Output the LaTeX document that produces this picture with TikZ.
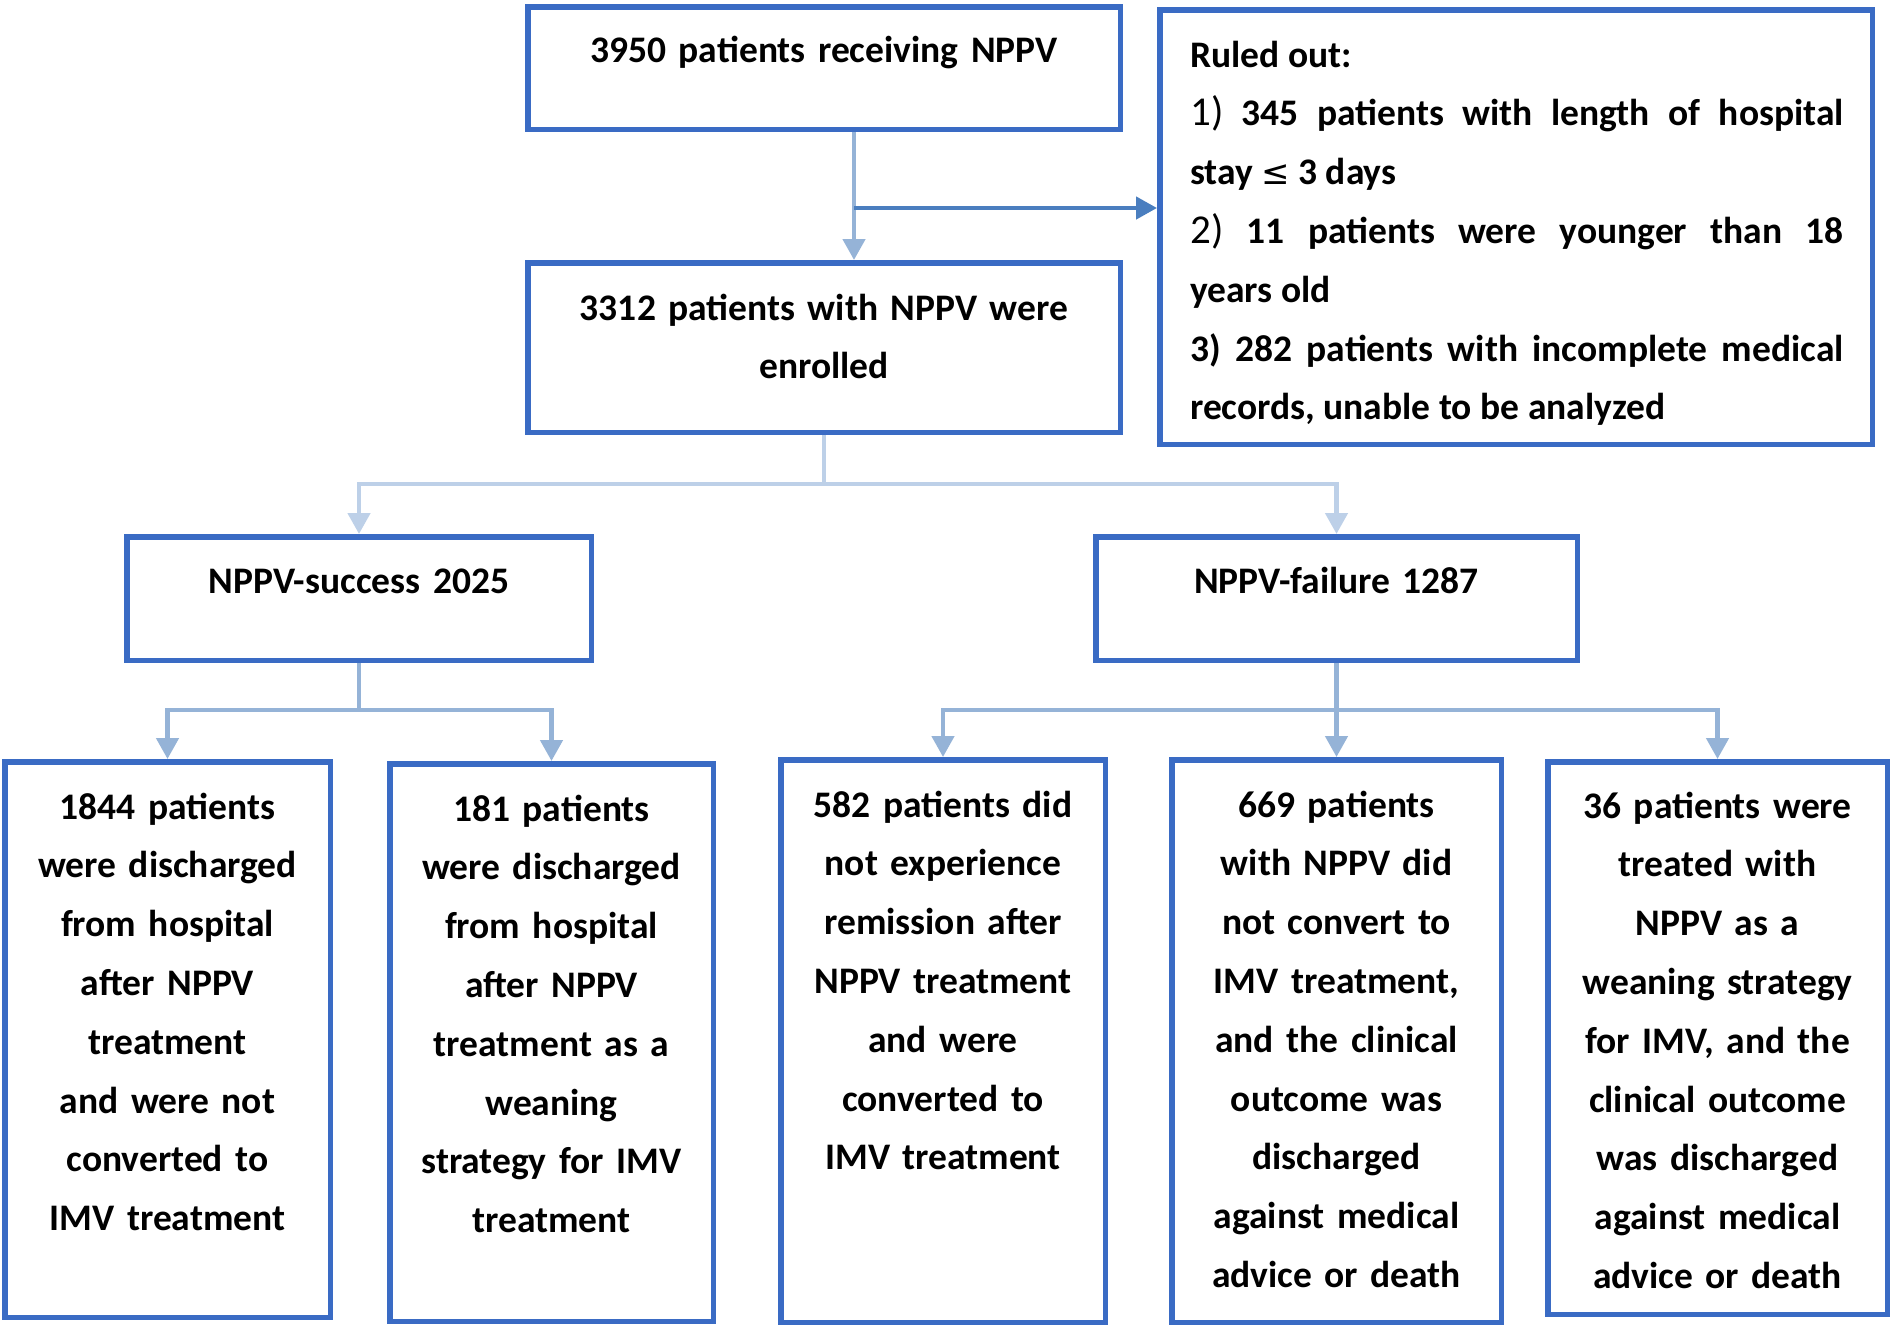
\documentclass[tikz,border=0pt]{standalone}
\usepackage{fontspec}
\setmainfont{Carlito}
\newfontfamily\symfont{DejaVu Sans}
\usetikzlibrary{arrows.meta}
\definecolor{boxblue}{HTML}{3A6BC4}
\definecolor{arrowA}{HTML}{95B3D7}
\definecolor{arrowB}{HTML}{BDD0E8}
\definecolor{arrowC}{HTML}{4A7EBF}
\tikzset{
  frame/.style={draw=boxblue, line width=5.5pt, inner sep=0pt, fill=white},
  txt/.style={font=\bfseries\fontsize{37.5}{58.8}\selectfont, inner sep=0pt, align=center, anchor=base, text width=310pt},
  conn/.style={line width=4.5pt, -{Triangle[width=22pt,length=21pt]}},
  stem/.style={line width=4.5pt},
}
\begin{document}
\begin{tikzpicture}[x=1pt,y=-1pt]
\useasboundingbox[fill=white] (0,0) rectangle (1894,1328);
% boxes
\node[frame, minimum width=592.5pt, minimum height=122.5pt] (b1) at (824,68) {};
\node[frame, minimum width=592.5pt, minimum height=169.5pt] (b2) at (824,347.5) {};
\node[frame, minimum width=712.5pt, minimum height=434.5pt] (ro) at (1516,227) {};
\node[frame, minimum width=464.5pt, minimum height=123.5pt] (succ) at (359,598.5) {};
\node[frame, minimum width=481.5pt, minimum height=123.5pt] (fail) at (1336.5,598.5) {};
\node[frame, minimum width=325.5pt, minimum height=555.5pt] (c1) at (167.5,1039.5) {};
\node[frame, minimum width=323.5pt, minimum height=557.5pt] (c2) at (551.5,1042.5) {};
\node[frame, minimum width=324.5pt, minimum height=562.5pt] (c3) at (943,1041) {};
\node[frame, minimum width=329.5pt, minimum height=562.5pt] (c4) at (1336.5,1041) {};
\node[frame, minimum width=339.5pt, minimum height=552.5pt] (c5) at (1717.5,1038) {};
% texts
\node[txt, text width=580pt] (t1) at (824,62) {3950 patients receiving NPPV};
\node[txt, text width=580pt] (t2) at (824,320) {3312 patients with NPPV were\\enrolled};
\node[txt, text width=450pt] (ts) at (359,593) {NPPV-success 2025};
\node[txt, text width=450pt] (tf) at (1336.5,593) {NPPV-failure 1287};
\node[txt] (tc1) at (167.5,819) {1844 patients\\were discharged\\from hospital\\after NPPV\\treatment\\and were not\\converted to\\IMV treatment};
\node[txt] (tc2) at (551.5,821) {181 patients\\were discharged\\from hospital\\after NPPV\\treatment as a\\weaning\\strategy for IMV\\treatment};
\node[txt] (tc3) at (943,817) {582 patients did\\not experience\\remission after\\NPPV treatment\\and were\\converted to\\IMV treatment};
\node[txt] (tc4) at (1336.5,817) {669 patients\\with NPPV did\\not convert to\\IMV treatment,\\and the clinical\\outcome was\\discharged\\against medical\\advice or death};
\node[txt] (tc5) at (1717.5,818) {36 patients were\\treated with\\NPPV as a\\weaning strategy\\for IMV, and the\\clinical outcome\\was discharged\\against medical\\advice or death};
\node[txt, align=justify, anchor=base west, text width=653.5pt] (tro) at (1190,67) {\hyphenpenalty=10000\parindent=0pt Ruled out:\par
{\mdseries\fontsize{41}{58.8}\selectfont 1)} 345 patients with length of hospital\linebreak stay {\symfont\mdseries\fontsize{34}{58.8}\selectfont ≤} 3 days\par
{\mdseries\fontsize{41}{58.8}\selectfont 2)} 11 patients were younger than 18\linebreak years old\par
3) 282 patients with incomplete medical\linebreak records, unable to be analyzed};
% connectors
\coordinate (r1) at (854,208);
\draw[conn, arrowA] ([xshift=30pt]b1.south) -- ([xshift=30pt]b2.north);
\draw[conn, arrowC] (r1) -- (r1 -| ro.west);
\coordinate (s0) at (824,484);
\draw[stem, arrowB] (b2.south) -- (s0);
\draw[conn, arrowB] (s0) -| (succ.north);
\draw[conn, arrowB] (s0) -| (fail.north);
\coordinate (s1) at (359,710);
\draw[stem, arrowA] (succ.south) -- (s1);
\draw[conn, arrowA] (s1) -| (c1.north);
\draw[conn, arrowA] (s1) -| (c2.north);
\coordinate (s2) at (1336.5,710);
\draw[stem, arrowA] (fail.south) -- (s2);
\draw[conn, arrowA] (s2) -| (c3.north);
\draw[conn, arrowA] (s2) -- (c4.north);
\draw[conn, arrowA] (s2) -| (c5.north);
\end{tikzpicture}
\end{document}
